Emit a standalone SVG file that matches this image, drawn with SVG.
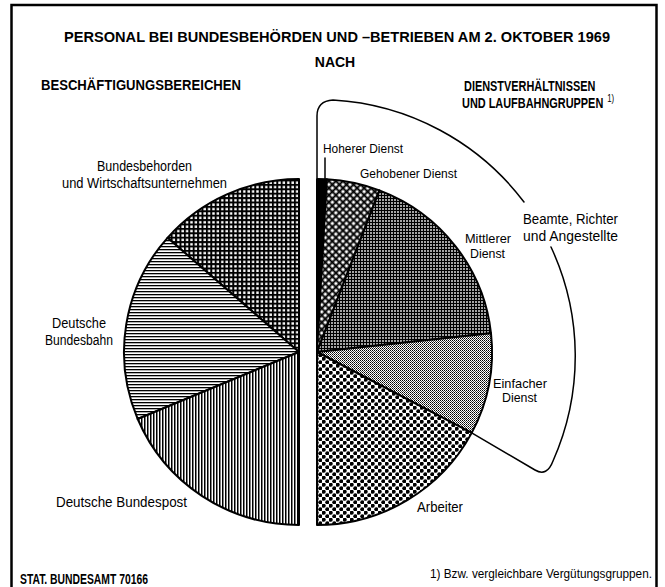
<svg xmlns="http://www.w3.org/2000/svg" width="665" height="587" viewBox="0 0 665 587">
<style>
text{font-family:"Liberation Sans Narrow","Liberation Sans",Arial,sans-serif;fill:#000}
.h{font-weight:bold;font-size:14px}
.l{font-size:15.5px}
.s{font-size:13.5px}
.out{stroke:#000;stroke-width:2;stroke-linejoin:round}
.thin{fill:none;stroke:#000;stroke-width:1.5;stroke-linecap:round;stroke-linejoin:round}
</style>
<defs>
<pattern id="pGrid" width="4.4" height="4.4" patternUnits="userSpaceOnUse"><rect width="4.4" height="4.4" fill="#000"/><rect x="1.1" y="1.1" width="2.4" height="2.4" fill="#fff"/></pattern>
<pattern id="pH" width="3" height="3" patternUnits="userSpaceOnUse"><rect width="3" height="3" fill="#fff"/><rect width="3" height="1.3" fill="#000"/></pattern>
<pattern id="pV" width="3" height="3" patternUnits="userSpaceOnUse"><rect width="3" height="3" fill="#fff"/><rect width="1.5" height="3" fill="#000"/></pattern>
<pattern id="pDia" width="5" height="5" patternUnits="userSpaceOnUse" patternTransform="rotate(45)"><rect width="5" height="5" fill="#000"/><rect x="1.5" y="1.5" width="3" height="3" fill="#fff"/></pattern>
<pattern id="pFine" width="3" height="3" patternUnits="userSpaceOnUse"><rect width="3" height="3" fill="#000"/><rect x="1.2" y="1.2" width="1.6" height="1.6" fill="#fff"/></pattern>
<pattern id="pStip" width="2" height="2" patternUnits="userSpaceOnUse"><rect width="2" height="2" fill="#fff"/><rect width="1" height="1" fill="#000"/><rect x="1" y="1" width="1" height="1" fill="#444"/></pattern>
<pattern id="pDot" width="7" height="7" patternUnits="userSpaceOnUse"><rect width="7" height="7" fill="#fff"/><circle cx="1.75" cy="1.75" r="2" fill="#000"/><circle cx="5.25" cy="5.25" r="2" fill="#000"/></pattern>
</defs>
<rect width="665" height="587" fill="#fff"/>
<path d="M11.5,587 V5 H656.5 V587" fill="none" stroke="#000" stroke-width="2.5"/>

<g id="headings">
<text class="h" x="64" y="42" font-size="16" textLength="546" lengthAdjust="spacingAndGlyphs">PERSONAL BEI BUNDESBEHÖRDEN UND –BETRIEBEN AM 2. OKTOBER 1969</text>
<text class="h" x="335" y="67" text-anchor="middle" font-size="15">NACH</text>
<text class="h" x="41" y="90" textLength="200" lengthAdjust="spacingAndGlyphs">BESCHÄFTIGUNGSBEREICHEN</text>
<text class="h" transform="translate(464,91) scale(0.78,1)">DIENSTVERHÄLTNISSEN</text>
<text class="h" transform="translate(462,108) scale(0.78,1)">UND LAUFBAHNGRUPPEN<tspan font-size="10" font-weight="normal" dx="5" dy="-6">1)</tspan></text>
</g>

<g id="pie-left">
<g id="bundesbehoerden"><path d="M299,352 L299,179 A175,173 0 0 0 167.5,237.8 Z" fill="url(#pGrid)" class="out"/></g>
<g id="bundesbahn"><path d="M299,352 L167.5,237.8 A175,173 0 0 0 137.7,419 Z" fill="url(#pH)" class="out"/></g>
<g id="bundespost"><path d="M299,352 L137.7,419 A175,173 0 0 0 299,525 Z" fill="url(#pV)" class="out"/></g>
</g>

<g id="pie-right">
<g id="hoeherer"><path d="M317,352 L317,179 A175,173 0 0 1 326.8,179.3 Z" fill="#000" class="out"/></g>
<g id="gehobener"><path d="M317,352 L326.8,179.3 A175,173 0 0 1 379.4,190.4 Z" fill="url(#pDia)" class="out"/></g>
<g id="mittlerer"><path d="M317,352 L379.4,190.4 A175,173 0 0 1 491,333.3 Z" fill="url(#pFine)" class="out"/></g>
<g id="einfacher"><path d="M317,352 L491,333.3 A175,173 0 0 1 471.7,432.9 Z" fill="url(#pStip)" class="out"/></g>
<g id="arbeiter"><path d="M317,352 L471.7,432.9 A175,173 0 0 1 317,525 Z" fill="url(#pDot)" class="out"/></g>
</g>

<g id="connectors">
<path class="thin" d="M317,178 L317,116 Q317,101 333,100 A258,258 0 0 1 524,202"/>
<path class="thin" d="M551,247 A258,258 0 0 1 553,461 Q547,477 535,470 L471.7,432.9"/>
<path class="thin" d="M325,158 L325,179"/>
</g>

<g id="labels-left">
<text class="l" x="97" y="171" textLength="95" lengthAdjust="spacingAndGlyphs">Bundesbehorden</text>
<text class="l" x="62" y="188" textLength="165" lengthAdjust="spacingAndGlyphs">und Wirtschaftsunternehmen</text>
<text class="l" x="52" y="328" textLength="54" lengthAdjust="spacingAndGlyphs">Deutsche</text>
<text class="l" x="45" y="345" textLength="68" lengthAdjust="spacingAndGlyphs">Bundesbahn</text>
<text class="l" x="56" y="507" textLength="131" lengthAdjust="spacingAndGlyphs">Deutsche Bundespost</text>
</g>

<g id="labels-right">
<text class="s" x="323" y="153" textLength="80" lengthAdjust="spacingAndGlyphs">Hoherer Dienst</text>
<text class="s" x="360" y="178" textLength="97" lengthAdjust="spacingAndGlyphs">Gehobener Dienst</text>
<text class="s" x="465" y="243" textLength="46" lengthAdjust="spacingAndGlyphs">Mittlerer</text>
<text class="s" x="470" y="258" textLength="35" lengthAdjust="spacingAndGlyphs">Dienst</text>
<text class="l" x="523" y="224" textLength="95" lengthAdjust="spacingAndGlyphs">Beamte, Richter</text>
<text class="l" x="523" y="241" textLength="95" lengthAdjust="spacingAndGlyphs">und Angestellte</text>
<text class="s" x="493" y="388" textLength="54" lengthAdjust="spacingAndGlyphs">Einfacher</text>
<text class="s" x="502" y="402" textLength="35" lengthAdjust="spacingAndGlyphs">Dienst</text>
<text class="l" x="417" y="512" textLength="46" lengthAdjust="spacingAndGlyphs">Arbeiter</text>
</g>

<g id="footer">
<text class="h" x="20" y="584" font-size="11" textLength="128" lengthAdjust="spacingAndGlyphs">STAT. BUNDESAMT 70166</text>
<text x="430" y="578" font-size="12" textLength="222" lengthAdjust="spacingAndGlyphs">1) Bzw. vergleichbare Vergütungsgruppen.</text>
</g>
</svg>
